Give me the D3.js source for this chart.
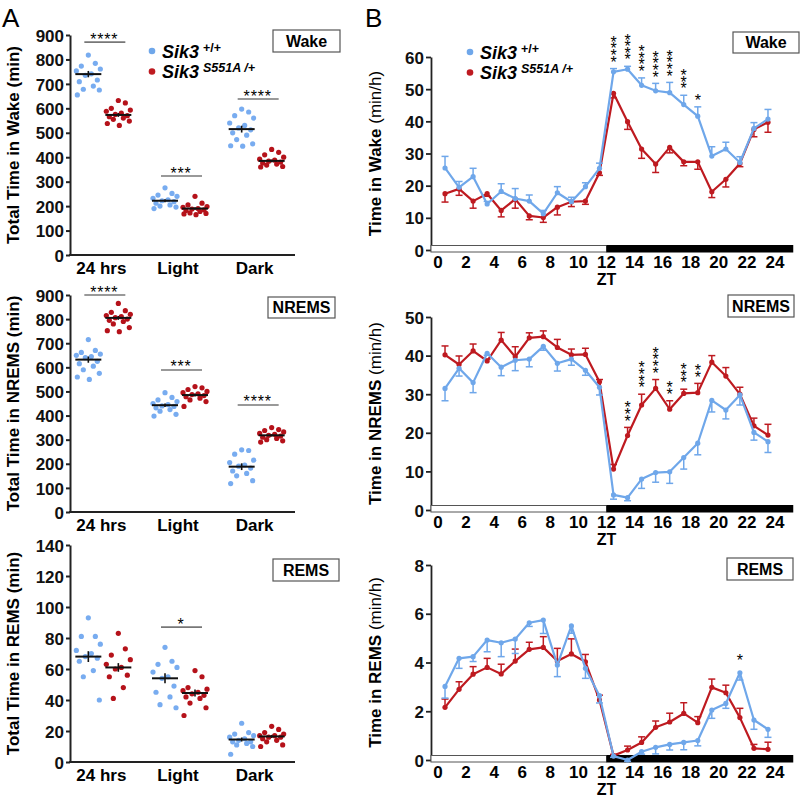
<!DOCTYPE html>
<html><head><meta charset="utf-8">
<script src="https://cdn.jsdelivr.net/npm/d3@7/dist/d3.min.js"></script>
<style>
body{margin:0;background:#fff}
text{font-family:"Liberation Sans",Arial,Helvetica,sans-serif}
</style>
</head><body>
<svg id="c" width="802" height="800"></svg>
<script>
// ---------------- DATA ----------------
const categories = ["24 hrs", "Light", "Dark"];

// Panel A: totals (min), per category: [24 hrs], [Light], [Dark]
const wakeTotalWT = [
  [818, 784, 773, 761, 753, 741, 735, 716, 709, 691, 678, 675, 655],
  [275, 252, 245, 240, 232, 226, 222, 218, 212, 205, 200, 196, 190],
  [597, 585, 570, 560, 540, 530, 520, 512, 500, 490, 472, 455, 447, 445]];
const wakeTotalMut = [
  [632, 622, 600, 593, 588, 580, 575, 570, 566, 560, 555, 548, 538, 530],
  [240, 212, 205, 198, 195, 190, 188, 185, 182, 178, 172, 170, 168, 165],
  [432, 420, 410, 400, 392, 388, 384, 380, 376, 372, 368, 362, 360]];
const wakeTotalMean = [[740, 573], [222, 190], [515, 385]];
const wakeTotalSem  = [[13, 8], [6, 5], [14, 6]];
const wakeTotalSig  = ["****", "***", "****"];
const wakeTotalSigY = [871, 323, 638];

const nremTotalWT = [
  [715, 670, 662, 655, 650, 645, 640, 625, 615, 605, 590, 575, 560, 550],
  [495, 475, 465, 458, 450, 445, 440, 438, 432, 425, 418, 405, 398],
  [258, 255, 240, 215, 205, 195, 190, 182, 170, 160, 150, 130, 118]];
const nremTotalMut = [
  [865, 835, 828, 820, 815, 810, 806, 800, 795, 790, 780, 765, 752, 748],
  [520, 515, 508, 500, 495, 490, 487, 483, 478, 472, 465, 458, 438],
  [350, 342, 338, 332, 326, 322, 318, 315, 310, 305, 300, 295, 290]];
const nremTotalMean = [[632, 805], [443, 485], [188, 318]];
const nremTotalSem  = [[13, 8], [7, 6], [14, 5]];
const nremTotalSig  = ["****", "***", "****"];
const nremTotalSigY = [900, 589, 444];

const remTotalWT = [
  [93, 81, 81, 76, 72, 70, 68, 67, 65, 59, 55, 40],
  [74, 65, 63, 61, 58, 55, 54, 49, 45, 42, 37, 35],
  [25, 19, 18, 17, 16, 15, 14, 13, 13, 12, 11, 10, 5]];
const remTotalMut = [
  [83, 73, 69, 66, 63, 61, 60, 56, 55, 48, 41],
  [59, 55, 48, 47, 46, 45, 44, 43, 42, 41, 38, 35, 30],
  [23, 21, 19, 18, 17, 17, 16, 16, 15, 14, 13, 11, 10]];
const remTotalMean = [[68, 61], [54, 44.5], [14.5, 16.5]];
const remTotalSem  = [[3.5, 2.8], [3.2, 2.2], [1.3, 1]];
const remTotalSig  = ["", "*", ""];
const remTotalSigY = [0, 87, 0];

// Panel B: hourly (min/h) at ZT 0.5 ... 23.5
const zt = [0.5,1.5,2.5,3.5,4.5,5.5,6.5,7.5,8.5,9.5,10.5,11.5,12.5,13.5,14.5,15.5,16.5,17.5,18.5,19.5,20.5,21.5,22.5,23.5];
const ztTicks = [0,2,4,6,8,10,12,14,16,18,20,22,24];

const wakeHourWT    = [25.5,19.5,22.8,14.3,18.2,16,15.2,11.3,17.8,15,19.7,25.4,55.4,56.2,51.2,49.5,48.9,45.2,41.6,29.2,31.4,27.2,37.8,40.7];
const wakeHourWTsem = [3.6,1.8,2.6,0.8,2.4,3.1,1.9,1.0,1.9,1.4,1.2,1.6,1.0,0.9,2.3,2.3,3.2,2.9,2.9,2.9,2.1,1.8,1.8,3.0];
const wakeHourMut    = [17.5,19,15.2,17.5,12.3,15.8,10.6,10.1,13.3,15,15.2,24,48.7,39.9,31.4,26.7,31.9,27.4,27.4,18.1,22,26.9,37.5,39.7];
const wakeHourMutSem = [2.6,2.0,2.2,0.8,2.0,2.8,1.2,1.5,2.4,1.5,1.0,0.8,1.4,2.4,2.9,2.6,1.7,1.2,2.3,1.8,2.4,1.0,2.3,3.1];
const wakeHourStars  = [0,0,0,0,0,0,0,0,0,0,0,0,4,4,4,4,4,3,1,0,0,0,0,0];

const nremHourWT    = [31.5,36.7,33,40.6,37,38.8,39.1,42.4,38,39.1,36.2,31.8,3.9,3.2,8,9.7,9.9,13.6,17.3,28.4,25.9,29.8,20.1,17.7];
const nremHourWTsem = [3.2,2.0,2.6,0.5,2.2,2.7,2.0,1.0,2.0,1.6,1.3,2.0,1.1,0.8,2.4,2.5,3.0,3.0,3.0,3.0,2.3,2.6,2.0,2.8];
const nremHourMut    = [40.2,37.7,41.2,38.6,44,39.7,44.6,44.9,42.1,40.2,40.3,33.2,10.6,19.3,27.2,31.5,26.1,30.2,30.4,38.3,34.7,30,21.8,19.4];
const nremHourMutSem = [2.3,2.2,1.8,0.5,2.0,2.6,1.3,1.5,2.1,1.5,1.6,0.6,1.2,2.1,2.8,2.3,2.2,1.1,2.4,1.7,2.2,1.8,2.0,2.8];
const nremHourStars  = [0,0,0,0,0,0,0,0,0,0,0,0,0,3,4,4,2,3,2,0,0,0,0,0];

const remHourWT    = [3.02,4.17,4.24,4.92,4.81,4.96,5.63,5.74,3.9,5.5,3.76,2.64,0.16,0.0,0.34,0.52,0.64,0.72,0.8,2.05,2.32,3.58,1.64,1.26];
const remHourWTsem = [0.48,0.41,0.2,0.48,0.57,0.59,0.15,0.55,0.48,0.3,0.41,0.3,0.05,0.05,0.1,0.27,0.23,0.3,0.22,0.34,0.2,0.3,0.38,0.33];
const remHourMut    = [2.16,2.9,3.52,3.8,3.53,4.06,4.54,4.62,4.06,4.35,4.03,2.46,0.18,0.41,0.72,1.34,1.56,1.91,1.53,2.98,2.76,1.74,0.48,0.44];
const remHourMutSem = [0.34,0.31,0.31,0.37,0.4,0.49,0.29,0.44,0.52,0.62,0.3,0.2,0.05,0.16,0.23,0.26,0.36,0.44,0.25,0.34,0.31,0.38,0.16,0.29];
const remHourStars  = [0,0,0,0,0,0,0,0,0,0,0,0,0,0,0,0,0,0,0,0,0,1,0,0];

// ---------------- DRAWING ----------------
const svg = d3.select("#c");
const BLUE = "#6fa7ea", RED = "#be1a20";
const DOT_BLUE = "#78acf0", DOT_RED = "#b5121a";
const FONT = '"Liberation Sans",Arial,Helvetica,sans-serif';

// panel letters
svg.append("text").attr("x", 2).attr("y", 27).attr("font-size", 26).text("A");
svg.append("text").attr("x", 365).attr("y", 27).attr("font-size", 26).text("B");

function legend(x, y) {
  const items = [{c: BLUE, sup: "+/+", it: false}, {c: RED, sup: "S551A /+", it: true}];
  items.forEach((d, i) => {
    const yy = y + i * 20.5;
    svg.append("circle").attr("cx", x).attr("cy", yy).attr("r", 3.3).attr("fill", d.c);
    const t = svg.append("text").attr("x", x + 10).attr("y", yy + 6.5)
      .attr("font-size", 18).attr("font-weight", "bold").attr("font-style", "italic");
    t.append("tspan").text("Sik3");
    t.append("tspan").attr("dx", 4).attr("dy", -6).attr("font-size", 12.5)
      .attr("font-style", d.it ? "italic" : "normal").text(d.sup);
  });
}

function box(label, x, y, w, h) {
  svg.append("rect").attr("x", x).attr("y", y).attr("width", w).attr("height", h)
    .attr("fill", "#fff").attr("stroke", "#555").attr("stroke-width", 1.2);
  svg.append("text").attr("x", x + w / 2).attr("y", y + h / 2 + 5.5).attr("text-anchor", "middle")
    .attr("font-size", 16).attr("font-weight", "bold").text(label);
}

// vertical stack of asterisks as one text run (glyphs kept upright)
function starStack(g, cx, bottomCenter, n) {
  const fs = 16, ls = 0.4;
  const base = bottomCenter + 0.573 * fs;
  const x0 = cx - 0.195 * fs;
  g.append("text").attr("x", x0).attr("y", base)
    .attr("transform", `rotate(-90,${x0},${base})`)
    .attr("rotate", "90").attr("font-size", fs).attr("letter-spacing", ls)
    .text("*".repeat(n));
}

// ---------- Left panels ----------
const jit = [0, 7, -7, 12, -12, 3, -3, 9, -9, 5, -5, 11, -11, 1];
const leftPanels = [
  {wt: wakeTotalWT, mut: wakeTotalMut, mean: wakeTotalMean, sem: wakeTotalSem, sig: wakeTotalSig, sigY: wakeTotalSigY,
   max: 900, step: 100, y0: 255, y1: 35, title: "Total Time in Wake", box: ["Wake", 273, 30, 67, 22]},
  {wt: nremTotalWT, mut: nremTotalMut, mean: nremTotalMean, sem: nremTotalSem, sig: nremTotalSig, sigY: nremTotalSigY,
   max: 900, step: 100, y0: 512, y1: 295, title: "Total Time in NREMS", box: ["NREMS", 268, 297, 67, 21]},
  {wt: remTotalWT, mut: remTotalMut, mean: remTotalMean, sem: remTotalSem, sig: remTotalSig, sigY: remTotalSigY,
   max: 140, step: 20, y0: 762, y1: 545, title: "Total Time in REMS", box: ["REMS", 273, 559, 66, 22]}
];

const xBand = d3.scaleBand().domain(categories).range([65, 295]);
const sub = 15;

leftPanels.forEach(p => {
  const y = d3.scaleLinear().domain([0, p.max]).range([p.y0, p.y1]);
  const g = svg.append("g");
  const ax = g.append("g").attr("transform", "translate(70,0)")
    .call(d3.axisLeft(y).tickValues(d3.range(0, p.max + 1, p.step)).tickSize(4).tickSizeOuter(0).tickPadding(2));
  ax.select(".domain").attr("stroke", "#222").attr("stroke-width", 2);
  ax.selectAll(".tick line").attr("stroke", "#222").attr("stroke-width", 2);
  ax.selectAll(".tick text").attr("font-size", 17).attr("font-weight", "bold").attr("fill", "#111")
    .attr("font-family", FONT).attr("dy", "0.36em");
  g.append("line").attr("x1", 69).attr("x2", 295).attr("y1", p.y0).attr("y2", p.y0)
    .attr("stroke", "#222").attr("stroke-width", 2);
  categories.forEach((c, i) => {
    const cx = xBand(c) + xBand.bandwidth() / 2;
    g.append("text").attr("x", cx - 2).attr("y", p.y0 + 19).attr("text-anchor", "middle")
      .attr("font-size", 17).attr("font-weight", "bold").text(c);
    [[p.wt[i], DOT_BLUE, -sub, 0], [p.mut[i], DOT_RED, sub, 1]].forEach(([vals, col, off, k]) => {
      const gx = cx + off;
      g.selectAll(null).data(vals).enter().append("circle")
        .attr("cx", (d, j) => gx + jit[j % jit.length])
        .attr("cy", d => y(d)).attr("r", 2.6).attr("fill", col);
      const m = p.mean[i][k], s = p.sem[i][k];
      g.append("line").attr("x1", gx - 13).attr("x2", gx + 13).attr("y1", y(m)).attr("y2", y(m))
        .attr("stroke", "#111").attr("stroke-width", 2);
      g.append("line").attr("x1", gx).attr("x2", gx).attr("y1", y(m - s)).attr("y2", y(m + s))
        .attr("stroke", "#111").attr("stroke-width", 1.6);
    });
    if (p.sig[i]) {
      const ly = y(p.sigY[i]);
      g.append("line").attr("x1", cx - sub - 4).attr("x2", cx + sub + 7).attr("y1", ly).attr("y2", ly)
        .attr("stroke", "#777").attr("stroke-width", 1.6);
      g.append("text").attr("x", cx + 1).attr("y", ly + 2.5).attr("text-anchor", "middle")
        .attr("font-size", 16).attr("letter-spacing", 0.8).text(p.sig[i]);
    }
  });
  const t = g.append("text").attr("transform", `translate(19,${(p.y0 + p.y1) / 2}) rotate(-90)`)
    .attr("text-anchor", "middle").attr("font-size", 17).attr("font-weight", "bold");
  t.append("tspan").text(p.title + " ");
  t.append("tspan").text("(min)");
  box(...p.box);
});
legend(152, 51);

// ---------- Right panels ----------
const rightPanels = [
  {wt: wakeHourWT, wtSem: wakeHourWTsem, mut: wakeHourMut, mutSem: wakeHourMutSem, stars: wakeHourStars,
   max: 60, step: 10, y0: 250, y1: 57, dirWT: 1, dirMut: -1, gap: 10, title: "Time in Wake", box: ["Wake", 733, 32, 66, 21]},
  {wt: nremHourWT, wtSem: nremHourWTsem, mut: nremHourMut, mutSem: nremHourMutSem, stars: nremHourStars,
   max: 50, step: 10, y0: 510, y1: 317, dirWT: -1, dirMut: 1, gap: 10, title: "Time in NREMS", box: ["NREMS", 728, 295, 66, 22]},
  {wt: remHourWT, wtSem: remHourWTsem, mut: remHourMut, mutSem: remHourMutSem, stars: remHourStars,
   max: 8, step: 2, y0: 760, y1: 565, dirWT: -1, dirMut: 1, gap: 16, title: "Time in REMS", box: ["REMS", 727, 558, 66, 22]}
];
const xr = d3.scaleLinear().domain([0, 24]).range([438, 775]);

rightPanels.forEach(p => {
  const y = d3.scaleLinear().domain([0, p.max]).range([p.y0, p.y1]);
  const g = svg.append("g");
  const axX = xr(-0.5);
  const ax = g.append("g").attr("transform", `translate(${axX},0)`)
    .call(d3.axisLeft(y).tickValues(d3.range(0, p.max + 0.001, p.step)).tickSize(5).tickSizeOuter(0).tickPadding(2));
  ax.select(".domain").attr("stroke", "#222").attr("stroke-width", 1.8);
  ax.selectAll(".tick line").attr("stroke", "#222").attr("stroke-width", 1.8);
  ax.selectAll(".tick text").attr("font-size", 17).attr("font-weight", "bold").attr("fill", "#111")
    .attr("font-family", FONT).attr("dy", "0.36em");
  g.append("rect").attr("x", axX).attr("y", p.y0 - 4.5).attr("width", xr(12) - axX).attr("height", 6.5)
    .attr("fill", "#fff").attr("stroke", "#555").attr("stroke-width", 1);
  g.append("rect").attr("x", xr(12)).attr("y", p.y0 - 5).attr("width", xr(25.3) - xr(12)).attr("height", 7.5)
    .attr("fill", "#000");
  g.selectAll(null).data(ztTicks).enter().append("text")
    .attr("x", d => xr(d)).attr("y", p.y0 + 18).attr("text-anchor", "middle")
    .attr("font-size", 17).attr("font-weight", "bold").text(d => d);
  g.append("text").attr("x", xr(12)).attr("y", p.y0 + 35).attr("text-anchor", "middle")
    .attr("font-size", 16).attr("font-weight", "bold").text("ZT");
  const line = d3.line().x((d, i) => xr(zt[i])).y(d => y(d));
  [[p.mut, p.mutSem, RED, p.dirMut], [p.wt, p.wtSem, BLUE, p.dirWT]].forEach(([vals, sems, col, dir]) => {
    vals.forEach((v, i) => {
      const x = xr(zt[i]), ye = y(v + dir * sems[i]);
      g.append("line").attr("x1", x).attr("x2", x).attr("y1", y(v)).attr("y2", ye)
        .attr("stroke", col).attr("stroke-width", 1.5);
      g.append("line").attr("x1", x - 3.5).attr("x2", x + 3.5).attr("y1", ye).attr("y2", ye)
        .attr("stroke", col).attr("stroke-width", 1.5);
    });
    g.append("path").datum(vals).attr("d", line).attr("fill", "none")
      .attr("stroke", col).attr("stroke-width", 2.2).attr("stroke-linejoin", "round");
    g.selectAll(null).data(vals).enter().append("circle")
      .attr("cx", (d, i) => xr(zt[i])).attr("cy", d => y(d)).attr("r", 2.6).attr("fill", col);
  });
  p.stars.forEach((n, i) => {
    if (!n) return;
    const tops = [y(p.wt[i]), y(p.mut[i])];
    if (p.dirWT > 0) tops.push(y(p.wt[i] + p.wtSem[i]));
    if (p.dirMut > 0) tops.push(y(p.mut[i] + p.mutSem[i]));
    starStack(g, xr(zt[i]), Math.min(...tops) - p.gap, n);
  });
  const t = g.append("text").attr("transform", `translate(381,${(p.y0 + p.y1) / 2}) rotate(-90)`)
    .attr("text-anchor", "middle").attr("font-size", 17).attr("font-weight", "bold");
  t.append("tspan").text(p.title + " ");
  t.append("tspan").attr("font-weight", "normal").text("(min/h)");
  box(...p.box);
});
legend(470, 52);
</script>
</body></html>
